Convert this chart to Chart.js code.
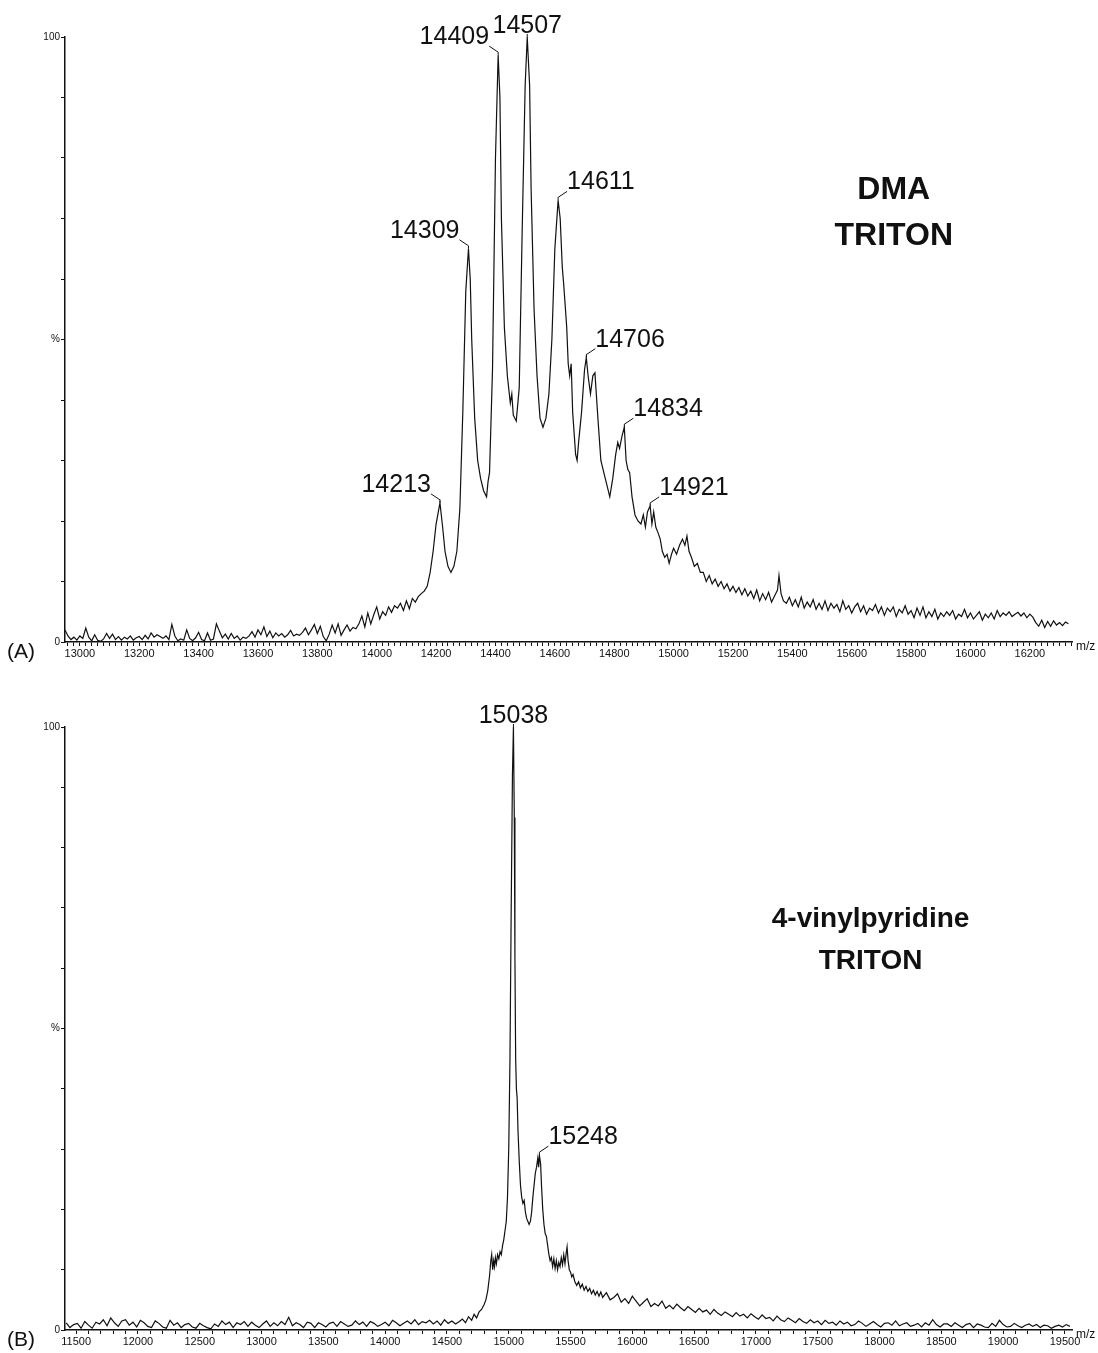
<!DOCTYPE html>
<html>
<head>
<meta charset="utf-8">
<script src="https://cdn.jsdelivr.net/npm/chart.js@4.4.1/dist/chart.umd.min.js"></script>
<style>
  html, body { margin: 0; padding: 0; background: #fff; }
  #wrap { position: relative; width: 1098px; height: 1353px; }
  .panel { position: absolute; left: 0; width: 1098px; }
  #panelA { top: 0; height: 690px; }
  #panelB { top: 690px; height: 663px; }
</style>
</head>
<body>
<div id="wrap">
  <div class="panel" id="panelA"><canvas id="chartA" width="1098" height="690"></canvas></div>
  <div class="panel" id="panelB"><canvas id="chartB" width="1098" height="663"></canvas></div>
</div>
<script>
// (A) DMA / TRITON spectrum, [m/z, relative intensity %]
const dmaSpectrum = [
  [12950,2.0],[12960,1.0],[12970,0.4],[12980,0.8],[12990,0.3],[13000,1.0],[13010,0.6],[13020,2.3],[13030,0.8],[13040,0.2],
  [13050,1.2],[13060,0.3],[13070,0.1],[13080,0.5],[13090,1.4],[13100,0.6],[13110,1.3],[13120,0.4],[13130,0.9],[13140,0.3],
  [13150,0.8],[13160,0.5],[13170,1.0],[13180,0.3],[13190,0.7],[13200,0.9],[13210,0.4],[13220,1.1],[13230,0.5],[13240,1.5],
  [13250,0.8],[13260,1.2],[13270,0.9],[13280,0.6],[13290,1.0],[13300,0.4],[13310,2.9],[13320,1.0],[13330,0.2],[13340,0.5],
  [13350,0.3],[13360,2.0],[13370,0.6],[13380,0.2],[13390,0.7],[13400,1.6],[13410,0.4],[13420,0.2],[13430,1.5],[13440,0.3],
  [13450,0.5],[13460,3.0],[13470,1.8],[13480,0.7],[13490,1.3],[13500,0.5],[13510,1.4],[13520,0.6],[13530,1.0],[13540,0.3],
  [13550,0.8],[13560,0.6],[13570,1.0],[13580,1.7],[13590,0.8],[13600,2.0],[13610,1.2],[13620,2.5],[13630,0.9],[13640,1.8],
  [13650,0.7],[13660,1.5],[13670,1.0],[13680,1.4],[13690,0.8],[13700,1.2],[13710,1.9],[13720,1.0],[13730,1.3],[13740,1.1],
  [13750,1.6],[13760,2.3],[13770,1.2],[13780,2.0],[13790,2.9],[13800,1.4],[13810,2.6],[13820,0.9],[13830,0.2],[13840,1.3],
  [13850,2.8],[13860,1.5],[13870,3.0],[13880,1.1],[13890,2.0],[13900,2.8],[13910,1.8],[13920,2.4],[13930,2.2],[13940,3.0],
  [13950,4.3],[13960,2.5],[13970,4.8],[13980,3.0],[13990,4.5],[14000,5.8],[14010,3.8],[14020,5.0],[14030,4.4],[14040,5.8],
  [14050,4.9],[14060,6.0],[14070,5.6],[14080,6.4],[14090,5.2],[14100,6.8],[14110,5.5],[14120,7.2],[14130,6.6],[14140,7.5],
  [14150,8.0],[14160,8.4],[14170,9.2],[14180,11.5],[14190,15.0],[14200,19.5],[14213,23.0],[14222,19.0],[14230,15.0],[14240,12.5],
  [14250,11.5],[14260,12.5],[14270,15.0],[14280,22.0],[14290,38.0],[14300,58.0],[14309,65.0],[14315,60.0],[14320,50.0],[14330,37.0],
  [14340,30.0],[14350,27.0],[14360,25.0],[14370,24.0],[14375,26.5],[14380,28.0],[14390,45.0],[14400,80.0],[14409,97.0],[14415,90.0],
  [14420,70.0],[14430,52.0],[14440,44.0],[14450,39.5],[14455,41.0],[14460,37.5],[14470,36.5],[14480,42.0],[14490,68.0],[14500,92.0],
  [14507,100.0],[14515,92.0],[14520,75.0],[14530,55.0],[14540,44.0],[14550,37.0],[14560,35.5],[14570,37.0],[14580,41.0],[14590,50.0],
  [14600,65.0],[14611,73.0],[14618,70.0],[14625,62.0],[14630,59.0],[14640,52.0],[14645,46.0],[14650,44.0],[14655,46.0],[14660,38.0],
  [14670,31.0],[14675,30.0],[14680,33.0],[14690,38.0],[14700,45.0],[14706,47.0],[14712,44.0],[14720,41.0],[14728,44.0],[14735,44.5],
  [14745,37.0],[14755,30.0],[14765,28.0],[14775,26.0],[14785,24.0],[14795,27.0],[14805,31.0],[14812,33.0],[14818,32.0],[14826,34.0],
  [14834,35.5],[14840,30.0],[14846,28.5],[14852,28.0],[14860,24.0],[14870,21.0],[14880,20.0],[14890,19.5],[14898,21.0],[14905,19.0],
  [14912,21.5],[14921,22.5],[14927,19.5],[14933,21.5],[14940,19.0],[14948,18.0],[14955,17.0],[14962,15.0],[14970,14.0],[14978,14.5],
  [14985,13.0],[14993,14.5],[15000,15.5],[15010,14.5],[15020,16.0],[15030,17.0],[15038,16.0],[15045,17.5],[15052,15.0],[15060,14.0],
  [15070,12.5],[15080,13.0],[15090,11.5],[15100,11.5],[15110,10.0],[15120,11.0],[15130,9.6],[15140,10.4],[15150,9.2],[15160,10.0],
  [15170,8.8],[15180,9.6],[15190,8.4],[15200,9.2],[15210,8.2],[15220,9.0],[15230,7.8],[15240,8.8],[15250,7.6],[15260,8.4],
  [15270,7.2],[15280,8.6],[15290,6.8],[15300,8.0],[15310,7.0],[15320,8.2],[15330,6.6],[15340,7.6],[15350,8.6],[15355,11.0],
  [15362,8.0],[15370,6.8],[15380,6.4],[15390,7.4],[15400,6.0],[15410,7.0],[15420,5.8],[15430,7.4],[15440,5.6],[15450,6.6],
  [15460,5.8],[15470,7.0],[15480,5.4],[15490,6.4],[15500,5.4],[15510,6.8],[15520,5.2],[15530,6.4],[15540,5.6],[15550,6.2],
  [15560,5.0],[15570,6.8],[15580,5.4],[15590,6.0],[15600,4.8],[15610,5.8],[15620,6.4],[15630,5.0],[15640,6.0],[15650,4.6],
  [15660,5.6],[15670,5.2],[15680,6.2],[15690,4.8],[15700,5.8],[15710,4.4],[15720,5.6],[15730,5.0],[15740,5.8],[15750,4.2],
  [15760,5.4],[15770,4.8],[15780,6.0],[15790,4.6],[15800,5.2],[15810,4.0],[15820,5.6],[15830,4.4],[15840,5.8],[15850,4.0],
  [15860,5.0],[15870,4.2],[15880,5.4],[15890,3.8],[15900,4.8],[15910,4.2],[15920,5.0],[15930,4.4],[15940,5.2],[15950,3.8],
  [15960,4.6],[15970,4.2],[15980,5.4],[15990,4.0],[16000,4.8],[16010,3.8],[16020,4.4],[16030,5.0],[16040,3.6],[16050,4.6],
  [16060,4.0],[16070,4.8],[16080,3.8],[16090,5.2],[16100,4.2],[16110,4.8],[16120,4.4],[16130,5.0],[16140,4.2],[16150,4.6],
  [16160,4.9],[16170,4.3],[16180,4.8],[16190,4.0],[16200,4.6],[16210,4.1],[16220,3.2],[16230,2.6],[16240,3.6],[16250,2.4],
  [16260,3.4],[16270,2.6],[16280,3.5],[16290,2.8],[16300,3.2],[16310,2.7],[16320,3.3],[16330,3.0]
];
const dmaPeaks = [14213, 14309, 14409, 14507, 14611, 14706, 14834, 14921];
const dmaTickLabels = [13000, 13200, 13400, 13600, 13800, 14000, 14200, 14400, 14600, 14800, 15000, 15200, 15400, 15600, 15800, 16000, 16200];
const dmaSample = ['DMA', 'TRITON'];

// (B) 4-vinylpyridine / TRITON spectrum, [m/z, relative intensity %]
const vpSpectrum = [
  [11420,1.2],[11450,0.4],[11480,0.9],[11510,1.1],[11540,0.3],[11570,1.4],[11600,0.8],[11630,0.3],[11660,1.3],[11690,1.0],
  [11720,1.7],[11750,0.7],[11780,2.0],[11810,1.2],[11840,0.6],[11870,1.5],[11900,1.7],[11930,0.8],[11960,1.3],[11990,0.5],
  [12020,1.6],[12050,1.2],[12080,0.6],[12110,0.4],[12140,1.5],[12170,1.1],[12200,0.5],[12230,0.3],[12260,1.6],[12290,0.8],
  [12320,1.2],[12350,0.4],[12380,0.9],[12410,1.1],[12440,0.5],[12470,0.3],[12500,1.1],[12530,0.7],[12560,0.4],[12590,0.2],
  [12620,1.0],[12650,0.6],[12680,1.5],[12710,0.9],[12740,1.3],[12770,0.4],[12800,1.2],[12830,0.9],[12860,1.4],[12890,0.6],
  [12920,1.3],[12950,0.8],[12980,0.4],[13010,1.0],[13040,1.5],[13070,0.6],[13100,1.2],[13130,0.7],[13160,1.4],[13190,0.9],
  [13220,2.1],[13250,0.7],[13280,1.2],[13310,0.9],[13340,0.4],[13370,1.3],[13400,1.1],[13430,0.4],[13460,1.2],[13490,0.9],
  [13520,0.5],[13550,1.1],[13580,1.3],[13610,0.6],[13640,1.4],[13670,1.0],[13700,0.6],[13730,0.8],[13760,1.5],[13790,0.9],
  [13820,1.3],[13850,0.6],[13880,1.4],[13910,1.1],[13940,0.6],[13970,0.9],[14000,1.3],[14030,0.7],[14060,1.6],[14090,1.2],
  [14120,0.7],[14150,1.1],[14180,1.5],[14210,1.0],[14240,1.7],[14270,0.9],[14300,1.4],[14330,1.2],[14360,1.6],[14390,1.0],
  [14420,1.5],[14450,0.8],[14480,1.7],[14510,1.1],[14540,1.5],[14570,1.0],[14600,1.4],[14625,1.8],[14650,1.2],[14675,2.2],
  [14700,1.6],[14720,2.6],[14740,2.0],[14760,3.0],[14780,3.4],[14800,4.2],[14815,5.0],[14830,6.5],[14845,9.0],[14855,11.5],
  [14862,12.5],[14870,10.0],[14878,11.5],[14885,10.5],[14892,12.0],[14900,11.0],[14910,12.5],[14920,11.8],[14930,13.0],[14940,12.5],
  [14950,14.0],[14960,15.0],[14970,16.5],[14980,18.0],[14990,22.0],[15000,30.0],[15010,45.0],[15020,70.0],[15030,92.0],[15038,100.0],
  [15045,85.0],[15050,62.0],[15056,45.0],[15062,40.0],[15068,38.5],[15075,33.0],[15085,28.0],[15095,24.0],[15105,22.0],[15115,21.0],
  [15125,21.5],[15135,19.5],[15145,18.5],[15155,18.0],[15165,17.5],[15175,18.0],[15185,19.5],[15195,22.0],[15205,24.0],[15215,26.0],
  [15225,27.0],[15235,28.5],[15242,27.0],[15248,29.0],[15258,27.5],[15265,24.0],[15275,20.0],[15285,17.5],[15295,16.0],[15305,15.5],
  [15315,14.0],[15325,12.5],[15335,11.5],[15345,12.0],[15355,10.5],[15365,11.8],[15375,10.2],[15385,11.5],[15395,10.0],[15405,11.2],
  [15415,10.5],[15425,12.0],[15435,10.8],[15445,12.5],[15455,11.0],[15465,12.8],[15472,13.8],[15480,11.5],[15490,10.0],[15500,9.6],
  [15510,8.8],[15520,9.2],[15535,8.0],[15550,7.4],[15565,8.0],[15580,7.0],[15595,7.6],[15610,6.6],[15625,7.2],[15640,6.4],
  [15655,6.9],[15670,6.0],[15685,6.6],[15700,5.8],[15715,6.4],[15730,5.6],[15745,6.3],[15760,5.4],[15790,6.2],[15820,5.0],
  [15850,5.4],[15880,6.0],[15910,4.6],[15940,5.2],[15970,4.4],[16000,5.6],[16030,4.8],[16060,4.0],[16090,4.6],[16120,5.2],
  [16150,3.9],[16180,4.4],[16210,4.0],[16240,4.8],[16270,3.6],[16300,4.1],[16330,3.5],[16360,4.3],[16390,3.7],[16420,3.2],
  [16450,3.9],[16480,3.4],[16510,2.9],[16540,3.6],[16570,3.0],[16600,3.3],[16630,2.6],[16660,3.4],[16690,2.8],[16720,2.4],
  [16750,3.0],[16780,2.6],[16810,2.2],[16840,2.9],[16870,2.3],[16900,2.6],[16930,2.0],[16960,2.7],[16990,2.2],[17020,1.8],
  [17050,2.5],[17080,1.9],[17110,2.1],[17140,1.5],[17170,2.3],[17200,1.7],[17230,1.4],[17260,2.0],[17290,1.6],[17320,1.2],
  [17350,1.9],[17380,1.4],[17410,1.1],[17440,1.7],[17470,1.2],[17500,1.5],[17530,0.9],[17560,1.6],[17590,1.1],[17620,1.3],
  [17650,0.8],[17680,1.5],[17710,1.0],[17740,1.3],[17770,0.7],[17800,0.9],[17830,1.5],[17860,1.1],[17890,0.6],[17920,1.0],
  [17950,1.4],[17980,0.9],[18010,0.5],[18040,1.1],[18070,1.2],[18100,0.8],[18130,1.5],[18160,0.7],[18190,1.0],[18220,1.2],
  [18250,0.6],[18280,0.8],[18310,1.1],[18340,0.5],[18370,1.2],[18400,0.8],[18430,1.7],[18460,0.9],[18490,0.5],[18520,1.0],
  [18550,1.0],[18580,0.6],[18610,1.2],[18640,0.8],[18670,0.4],[18700,0.9],[18730,1.1],[18760,0.4],[18790,1.0],[18820,0.8],
  [18850,0.5],[18880,0.4],[18910,1.1],[18940,0.6],[18970,1.6],[19000,0.9],[19030,0.5],[19060,0.6],[19090,1.1],[19120,0.7],
  [19150,0.4],[19180,0.8],[19210,1.0],[19240,0.6],[19270,0.9],[19300,0.4],[19330,0.8],[19360,0.7],[19390,0.3],[19420,0.6],
  [19450,0.8],[19480,0.5],[19510,0.9],[19540,0.6]
];
const vpPeaks = [15038, 15248];
const vpTickLabels = [11500, 12000, 12500, 13000, 13500, 14000, 14500, 15000, 15500, 16000, 16500, 17000, 17500, 18000, 18500, 19000, 19500];
const vpSample = ['4-vinylpyridine', 'TRITON'];

const yTickValues = [0, 10, 20, 30, 40, 50, 60, 70, 80, 90, 100];
const yTickText = { 0: '0', 50: '%', 100: '100' };

const FONT = '"Liberation Sans", Arial, Helvetica, sans-serif';
const INK = '#111';

function labelPlugin(cfg) {
  return {
    id: 'specLabels',
    afterDraw(chart) {
      const { ctx, chartArea: a, scales: { x, y } } = chart;
      const top = cfg.points.reduce((m, p) => (p[1] > m[1] ? p : m));
      ctx.save();
      ctx.fillStyle = INK;
      ctx.strokeStyle = INK;
      ctx.lineWidth = 1;

      // peak m/z labels with leader lines
      ctx.font = '25px ' + FONT;
      ctx.textBaseline = 'alphabetic';
      cfg.peaks.forEach(mz => {
        const p = cfg.points.find(q => q[0] === mz);
        const px = x.getPixelForValue(p[0]);
        const py = y.getPixelForValue(p[1]);
        const side = Math.sign(mz - top[0]);
        ctx.beginPath();
        if (side === 0) {
          ctx.moveTo(px, py);
          ctx.lineTo(px, py - 3);
          ctx.stroke();
          ctx.textAlign = 'center';
          ctx.fillText(String(mz), px, py - 4);
        } else {
          const ex = px + side * 9, ey = py - 9;
          ctx.moveTo(px, py);
          ctx.lineTo(px, py - 3);
          ctx.lineTo(ex, ey);
          ctx.stroke();
          ctx.textAlign = side < 0 ? 'right' : 'left';
          ctx.fillText(String(mz), ex, ey - 2);
        }
      });

      // panel tag and axis unit
      ctx.textAlign = 'left';
      ctx.textBaseline = 'middle';
      ctx.font = '21px ' + FONT;
      ctx.fillText(cfg.tag, 7, a.bottom + 10);
      ctx.font = '12px ' + FONT;
      ctx.fillText('m/z', a.right + 4, a.bottom + 5);

      // sample description
      ctx.font = 'bold ' + cfg.sampleSize + 'px ' + FONT;
      ctx.textAlign = 'center';
      const cx = a.left + cfg.sampleAt[0] * (a.right - a.left);
      cfg.sample.forEach((t, i) => {
        const cy = a.top + (cfg.sampleAt[1] + i * cfg.sampleGap) * (a.bottom - a.top);
        ctx.fillText(t, cx, cy);
      });
      ctx.restore();
    }
  };
}

function spectrumChart(id, cfg) {
  const minorTicks = [];
  for (let v = cfg.tickFrom; v <= cfg.xMax; v += cfg.minorStep) minorTicks.push(v);

  return new Chart(document.getElementById(id), {
    type: 'scatter',
    data: {
      datasets: [{
        data: cfg.points.map(p => ({ x: p[0], y: p[1] })),
        showLine: true,
        borderColor: INK,
        borderWidth: 1.2,
        pointRadius: 0,
        tension: 0
      }]
    },
    options: {
      responsive: false,
      animation: false,
      events: [],
      layout: { padding: { top: cfg.padTop, right: 26, left: 0, bottom: 0 } },
      plugins: { legend: { display: false }, tooltip: { enabled: false } },
      scales: {
        x: {
          type: 'linear',
          min: cfg.xMin,
          max: cfg.xMax,
          afterFit: s => { s.height = cfg.axisH; },
          afterBuildTicks: s => { s.ticks = minorTicks.map(v => ({ value: v })); },
          ticks: {
            autoSkip: false,
            maxRotation: 0,
            padding: 1,
            color: INK,
            font: { family: FONT, size: 11 },
            callback: v => (cfg.tickLabels.includes(v) ? String(v) : '')
          },
          grid: { drawOnChartArea: false, drawTicks: true, tickLength: 4, color: INK, tickWidth: 1 },
          border: { display: true, color: INK, width: 1.5 }
        },
        y: {
          min: 0,
          max: 100,
          afterFit: s => { s.width = 65; },
          afterBuildTicks: s => { s.ticks = yTickValues.map(v => ({ value: v })); },
          ticks: {
            autoSkip: false,
            padding: 1,
            color: INK,
            font: { family: FONT, size: 10 },
            callback: v => yTickText[v] || ''
          },
          grid: { drawOnChartArea: false, drawTicks: true, tickLength: 4, color: INK, tickWidth: 1 },
          border: { display: true, color: INK, width: 1.5 }
        }
      }
    },
    plugins: [labelPlugin(cfg)]
  });
}

spectrumChart('chartA', {
  points: dmaSpectrum, peaks: dmaPeaks, tickLabels: dmaTickLabels,
  xMin: 12950, xMax: 16342, tickFrom: 12960, minorStep: 20,
  padTop: 37, axisH: 48, tag: '(A)',
  sample: dmaSample, sampleAt: [0.823, 0.253], sampleGap: 0.076, sampleSize: 32
});

spectrumChart('chartB', {
  points: vpSpectrum, peaks: vpPeaks, tickLabels: vpTickLabels,
  xMin: 11410, xMax: 19557, tickFrom: 11500, minorStep: 100,
  padTop: 37, axisH: 23, tag: '(B)',
  sample: vpSample, sampleAt: [0.8, 0.319], sampleGap: 0.07, sampleSize: 28
});
</script>
</body>
</html>
